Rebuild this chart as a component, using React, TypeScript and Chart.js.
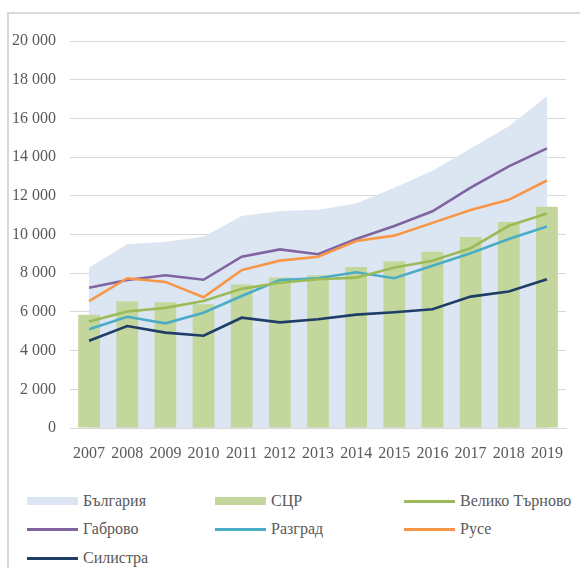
import React, { useEffect, useRef } from "react";
import { Chart, registerables } from "chart.js";

Chart.register(...registerables);

const years = ["2007", "2008", "2009", "2010", "2011", "2012", "2013", "2014", "2015", "2016", "2017", "2018", "2019"];
const bulgaria = [8300, 9500, 9620, 9880, 10960, 11220, 11280, 11600, 12420, 13300, 14450, 15600, 17150];
const scr = [5850, 6550, 6500, 6400, 7420, 7780, 7900, 8320, 8620, 9110, 9870, 10650, 11440];
const velikoTarnovo = [5500, 6020, 6210, 6560, 7190, 7510, 7690, 7770, 8290, 8640, 9290, 10450, 11090];
const gabrovo = [7250, 7650, 7890, 7660, 8850, 9230, 8980, 9770, 10440, 11200, 12420, 13520, 14450];
const razgrad = [5100, 5750, 5410, 5960, 6820, 7650, 7740, 8050, 7740, 8390, 9030, 9770, 10410];
const ruse = [6560, 7740, 7550, 6760, 8160, 8650, 8850, 9660, 9940, 10600, 11260, 11790, 12790];
const silistra = [4510, 5270, 4930, 4770, 5700, 5460, 5620, 5860, 5980, 6140, 6790, 7050, 7690];

const FONT = "'Liberation Serif', 'Times New Roman', serif";
const TEXT = "#595959";
const GRID = "#D9D9D9";

type LegendItem = { label: string; color: string; kind: "box" | "line" };
const legendItems: LegendItem[] = [
  { label: "България", color: "#DCE6F2", kind: "box" },
  { label: "СЦР", color: "#C3D69B", kind: "box" },
  { label: "Велико Търново", color: "#9BBB59", kind: "line" },
  { label: "Габрово", color: "#8064A2", kind: "line" },
  { label: "Разград", color: "#4BACC6", kind: "line" },
  { label: "Русе", color: "#F79646", kind: "line" },
  { label: "Силистра", color: "#1F3D66", kind: "line" },
];

function fmt(v: number): string {
  return String(v).replace(/\B(?=(\d{3})+(?!\d))/g, " ");
}

export default function App() {
  const ref = useRef<HTMLCanvasElement | null>(null);

  useEffect(() => {
    if (!ref.current) return;
    const lineDs = (label: string, data: number[], color: string) => ({
      type: "line" as const,
      label,
      data,
      borderColor: color,
      backgroundColor: color,
      borderWidth: 2.6,
      pointRadius: 0,
      fill: false,
      tension: 0,
      order: 1,
    });
    const chart = new Chart(ref.current, {
      type: "bar",
      data: {
        labels: years,
        datasets: [
          {
            type: "line" as const,
            label: "България",
            data: bulgaria,
            fill: "origin",
            backgroundColor: "#DCE6F2",
            borderWidth: 0,
            borderColor: "rgba(0,0,0,0)",
            pointRadius: 0,
            tension: 0,
            order: 3,
          },
          {
            type: "bar" as const,
            label: "СЦР",
            data: scr,
            backgroundColor: "#C3D69B",
            barPercentage: 0.57,
            categoryPercentage: 1,
            order: 2,
          },
          lineDs("Велико Търново", velikoTarnovo, "#9BBB59"),
          lineDs("Разград", razgrad, "#4BACC6"),
          lineDs("Силистра", silistra, "#1F3D66"),
          lineDs("Русе", ruse, "#F79646"),
          lineDs("Габрово", gabrovo, "#8064A2"),
        ] as any,
      },
      options: {
        animation: false,
        responsive: false,
        maintainAspectRatio: false,
        layout: { padding: { top: 41, right: 14, left: 0, bottom: 0 } },
        plugins: { legend: { display: false }, tooltip: { enabled: false } },
        scales: {
          x: {
            grid: { display: false },
            border: { display: true, color: GRID, width: 1 },
            ticks: { font: { family: FONT, size: 16 }, color: TEXT, padding: 8, maxRotation: 0 },
            afterFit: (s: any) => {
              s.height = 42;
            },
          },
          y: {
            min: 0,
            max: 20000,
            border: { display: false },
            grid: { color: GRID, lineWidth: 1, drawTicks: false },
            ticks: {
              stepSize: 2000,
              font: { family: FONT, size: 16 },
              color: TEXT,
              padding: 14,
              callback: (v: any) => fmt(Number(v)),
            },
            afterFit: (s: any) => {
              s.width = 70;
            },
          },
        },
      } as any,
    });
    return () => chart.destroy();
  }, []);

  const colX = [27, 215, 404];
  const rowY = [501, 529, 558];

  return (
    <div style={{ position: "absolute", left: 0, top: 0, width: 580, height: 568, overflow: "hidden", background: "#fff" }}>
      <div
        style={{
          position: "absolute",
          left: 7,
          top: 12,
          width: 600,
          height: 600,
          borderLeft: `2px solid ${GRID}`,
          borderTop: `2px solid ${GRID}`,
          boxSizing: "border-box",
        }}
      />
      <canvas ref={ref} width={580} height={470} style={{ position: "absolute", left: 0, top: 0, width: 580, height: 470 }} />
      {legendItems.map((it, i) => {
        const x = colX[i % 3];
        const y = rowY[Math.floor(i / 3)];
        const h = it.kind === "box" ? 8 : 3;
        return (
          <div key={it.label}>
            <div
              style={{
                position: "absolute",
                left: x,
                top: y - h / 2,
                width: 51,
                height: h,
                background: it.color,
              }}
            />
            <div
              style={{
                position: "absolute",
                left: x + 56,
                top: y - 10,
                height: 20,
                lineHeight: "20px",
                fontFamily: FONT,
                fontSize: 16,
                color: TEXT,
                whiteSpace: "nowrap",
              }}
            >
              {it.label}
            </div>
          </div>
        );
      })}
    </div>
  );
}
